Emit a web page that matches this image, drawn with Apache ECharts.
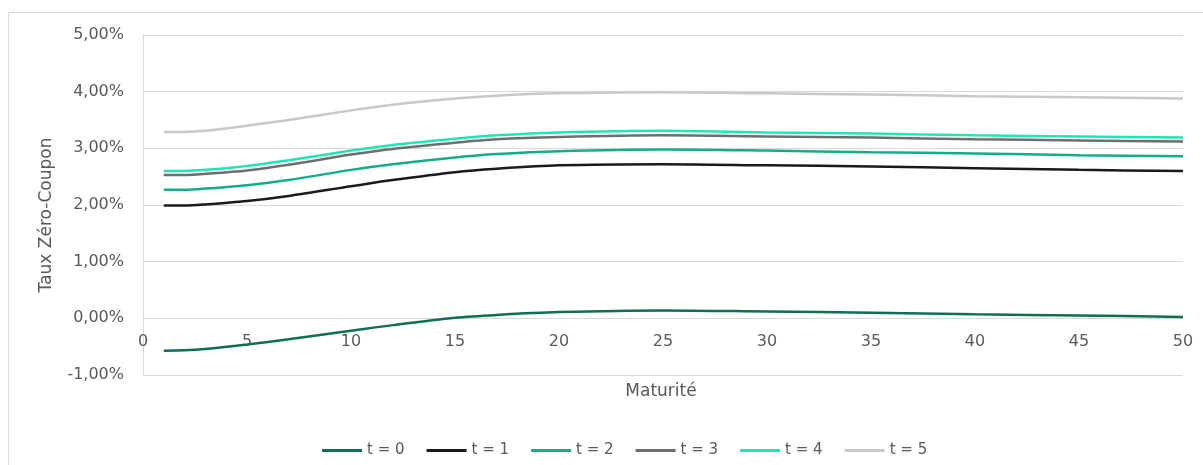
<!DOCTYPE html>
<html>
<head>
<meta charset="utf-8">
<script src="https://cdn.jsdelivr.net/npm/echarts@6/dist/echarts.min.js"></script>
<style>
  html, body { margin: 0; padding: 0; background: #ffffff; }
  #chart { width: 1203px; height: 465px; }
</style>
</head>
<body>
<div id="chart"></div>
<script>
// Maturités (années)
const maturities = [1, 2, 3, 5, 7, 10, 12, 15, 17, 20, 25, 30, 35, 40, 45, 50];

// Taux zéro-coupon (%) par date t
const t0 = [-0.57, -0.565, -0.54, -0.46, -0.37, -0.22, -0.12, 0.01, 0.06, 0.11, 0.14, 0.12, 0.10, 0.07, 0.05, 0.025];
const t1 = [1.99, 1.99, 2.01, 2.07, 2.16, 2.33, 2.44, 2.58, 2.64, 2.70, 2.72, 2.70, 2.68, 2.65, 2.62, 2.60];
const t2 = [2.27, 2.27, 2.29, 2.35, 2.44, 2.62, 2.72, 2.84, 2.90, 2.95, 2.98, 2.96, 2.93, 2.91, 2.88, 2.86];
const t3 = [2.53, 2.53, 2.55, 2.61, 2.71, 2.89, 2.99, 3.10, 3.16, 3.20, 3.23, 3.21, 3.19, 3.16, 3.14, 3.12];
const t4 = [2.60, 2.60, 2.62, 2.69, 2.79, 2.96, 3.06, 3.17, 3.23, 3.28, 3.31, 3.28, 3.26, 3.23, 3.21, 3.19];
const t5 = [3.29, 3.29, 3.31, 3.40, 3.50, 3.67, 3.77, 3.88, 3.93, 3.97, 3.99, 3.97, 3.95, 3.92, 3.90, 3.88];

const seriesNames = ['t = 0', 't = 1', 't = 2', 't = 3', 't = 4', 't = 5'];
const seriesValues = [t0, t1, t2, t3, t4, t5];
const seriesColors = ['#0f6e55', '#1a1a1a', '#14ae86', '#6e6e6e', '#1fe6b4', '#c9c9c9'];

const FONT = '"DejaVu Sans", sans-serif';
const TEXT = '#595959';
const GRID = '#d9d9d9';

const Y_MIN = -1, Y_MAX = 5;
const GRID_TOP = 35, GRID_BOTTOM = 90, CHART_H = 465;

const fmtPct = v => v.toFixed(2).replace('.', ',') + '%';

// the horizontal axis sits on the 0% line: shift it up from the bottom edge
const plotH = CHART_H - GRID_TOP - GRID_BOTTOM;
const zeroOffset = -plotH * (0 - Y_MIN) / (Y_MAX - Y_MIN);

const chart = echarts.init(document.getElementById('chart'), null, { renderer: 'canvas' });

chart.setOption({
  animation: false,
  backgroundColor: '#ffffff',
  grid: { left: 143, right: 20, top: GRID_TOP, bottom: GRID_BOTTOM, outerBoundsMode: 'none', containLabel: false },
  graphic: [
    {
      type: 'rect',
      shape: { x: 8.5, y: 12.5, width: 1400, height: 600 },
      style: { fill: 'none', stroke: GRID, lineWidth: 1 },
      silent: true
    },
    {
      type: 'text',
      x: 47, y: 215,
      rotation: Math.PI / 2,
      style: {
        text: 'Taux Zéro-Coupon',
        font: '17px ' + FONT,
        fill: TEXT,
        align: 'center',
        verticalAlign: 'middle'
      }
    },
    {
      type: 'text',
      x: 661, y: 392,
      style: {
        text: 'Maturité',
        font: '17px ' + FONT,
        fill: TEXT,
        align: 'center',
        verticalAlign: 'middle'
      }
    }
  ],
  legend: {
    left: 317,
    top: 438,
    icon: 'rect',
    itemWidth: 40,
    itemHeight: 3,
    itemGap: 22,
    textStyle: { color: TEXT, fontFamily: FONT, fontSize: 15 },
    data: seriesNames
  },
  xAxis: {
    type: 'value',
    min: 0,
    max: 50,
    interval: 5,
    offset: zeroOffset,
    axisLine: { show: true, onZero: false, lineStyle: { color: GRID, width: 1 } },
    axisTick: { show: false },
    splitLine: { show: false },
    axisLabel: { color: TEXT, fontFamily: FONT, fontSize: 16, margin: 16 }
  },
  yAxis: {
    type: 'value',
    min: Y_MIN,
    max: Y_MAX,
    interval: 1,
    axisLine: { show: true, lineStyle: { color: GRID, width: 1 } },
    axisTick: { show: false },
    splitLine: { show: true, lineStyle: { color: GRID, width: 1 } },
    axisLabel: { color: TEXT, fontFamily: FONT, fontSize: 16, margin: 19, formatter: fmtPct }
  },
  series: seriesNames.map((name, i) => ({
    name,
    type: 'line',
    smooth: 0.3,
    showSymbol: false,
    symbol: 'none',
    color: seriesColors[i],
    lineStyle: { width: 2.5, color: seriesColors[i] },
    data: maturities.map((m, k) => [m, seriesValues[i][k]])
  }))
});
</script>
</body>
</html>
